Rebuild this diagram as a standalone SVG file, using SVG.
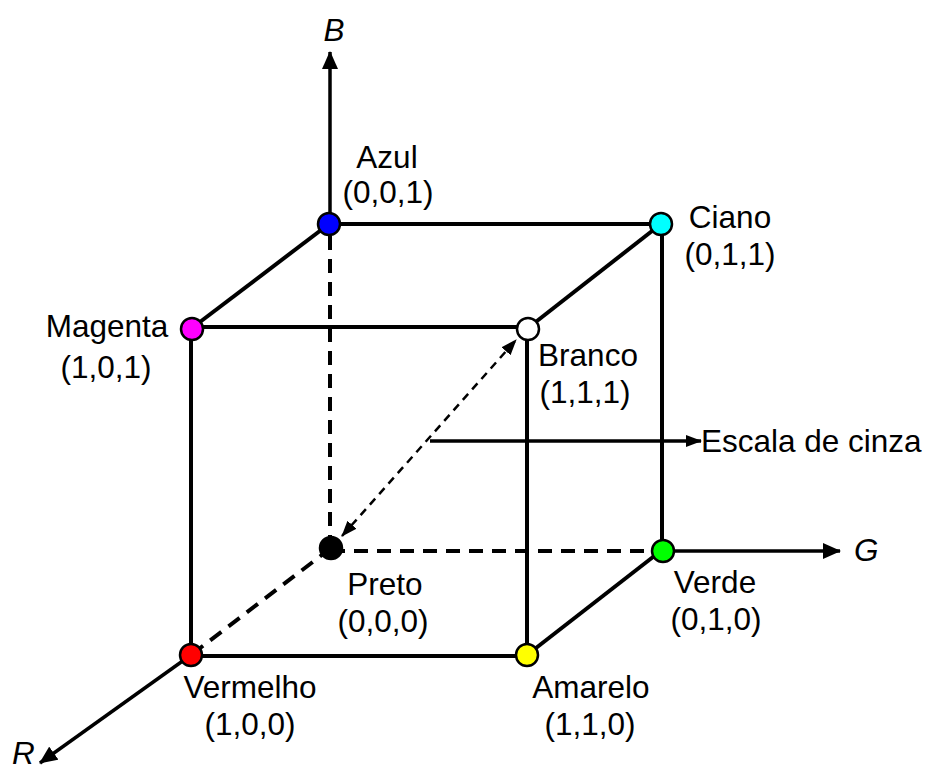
<svg xmlns="http://www.w3.org/2000/svg" width="925" height="771" viewBox="0 0 925 771">
<style>
.edge{stroke:#000;stroke-width:4;fill:none}
.dash{stroke:#000;stroke-width:4;fill:none;stroke-dasharray:14 9}
.gray{stroke:#000;stroke-width:2.5;fill:none;stroke-dasharray:8 6}
.ax{stroke:#000;stroke-width:3.5;fill:none}
.node circle{stroke:#000;stroke-width:2.5}
text{font-family:"Liberation Sans",Arial,sans-serif;font-size:31.5px;fill:#000}
.c{text-anchor:middle}
.it{font-style:italic}
</style>
<defs>
<marker id="ah" markerUnits="userSpaceOnUse" markerWidth="18" markerHeight="16" refX="17" refY="8" orient="auto">
<path d="M0,0 L18,8 L0,16 z" fill="#000"/>
</marker>
<marker id="sh" markerUnits="userSpaceOnUse" markerWidth="16" markerHeight="12" refX="15" refY="6" orient="auto-start-reverse">
<path d="M0,0 L16,6 L0,12 z" fill="#000"/>
</marker>
</defs>
<g id="connectors">
<line class="edge" x1="329" y1="224" x2="661" y2="224"/>
<line class="edge" x1="329" y1="224" x2="192" y2="328"/>
<line class="edge" x1="661" y1="224" x2="528" y2="328"/>
<line class="edge" x1="192" y1="327" x2="528" y2="327"/>
<line class="edge" x1="191" y1="328" x2="191" y2="655"/>
<line class="edge" x1="527" y1="328" x2="527" y2="655"/>
<line class="edge" x1="662" y1="224" x2="662" y2="550"/>
<line class="edge" x1="191" y1="656" x2="527" y2="656"/>
<line class="edge" x1="527" y1="655" x2="662" y2="550"/>
<line class="dash" x1="330" y1="236" x2="330" y2="548"/>
<line class="dash" x1="331" y1="551" x2="662" y2="551"/>
<line class="dash" x1="331" y1="548" x2="191" y2="655"/>
<line class="ax" x1="330" y1="224" x2="330" y2="52" marker-end="url(#ah)"/>
<line class="ax" x1="662" y1="551" x2="840" y2="551" marker-end="url(#ah)"/>
<line class="ax" x1="191" y1="655" x2="40" y2="763" marker-end="url(#ah)"/>
<line class="ax" x1="430" y1="441" x2="701" y2="441" marker-end="url(#sh)"/>
<line class="gray" x1="342" y1="536" x2="516" y2="340" marker-start="url(#sh)" marker-end="url(#sh)"/>
</g>
<g id="azul" class="node"><circle cx="329" cy="224" r="11" fill="#0000ff"/><text class="c" x="387" y="168">Azul</text><text class="c" x="388" y="203">(0,0,1)</text></g>
<g id="ciano" class="node"><circle cx="661" cy="224" r="11" fill="#00ffff"/><text class="c" x="730" y="228">Ciano</text><text class="c" x="730" y="265">(0,1,1)</text></g>
<g id="magenta" class="node"><circle cx="192" cy="329" r="11" fill="#ff00ff"/><text class="c" x="107" y="337">Magenta</text><text class="c" x="106" y="378">(1,0,1)</text></g>
<g id="branco" class="node"><circle cx="528" cy="329" r="11" fill="#ffffff"/><text class="c" x="588" y="366">Branco</text><text class="c" x="585" y="403">(1,1,1)</text></g>
<g id="preto" class="node"><circle cx="331" cy="548" r="11" fill="#000000"/><text class="c" x="385" y="595">Preto</text><text class="c" x="383" y="632">(0,0,0)</text></g>
<g id="verde" class="node"><circle cx="663" cy="551" r="11" fill="#00ff00"/><text class="c" x="715" y="593">Verde</text><text class="c" x="716" y="630">(0,1,0)</text></g>
<g id="vermelho" class="node"><circle cx="191" cy="655" r="11" fill="#ff0000"/><text class="c" x="250" y="698">Vermelho</text><text class="c" x="250" y="735">(1,0,0)</text></g>
<g id="amarelo" class="node"><circle cx="527" cy="655" r="11" fill="#ffff00"/><text class="c" x="591" y="698">Amarelo</text><text class="c" x="590" y="735">(1,1,0)</text></g>
<g id="labels">
<text class="c it" x="334" y="41">B</text>
<text class="it" x="854" y="561">G</text>
<text class="it" x="12" y="764">R</text>
<text x="701" y="452">Escala de cinza</text>
</g>
</svg>
